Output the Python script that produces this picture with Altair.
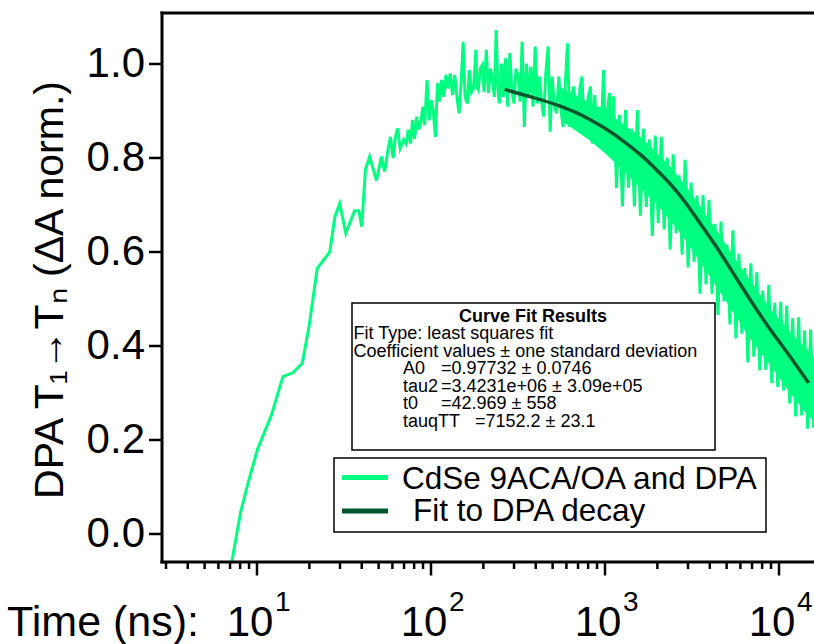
import altair as alt
import pandas as pd

# ---------------- data ----------------
data_t = [7.10, 7.22, 8.06, 8.88, 10.05, 12.1, 14.1, 16.1, 18.2, 19.9, 22.2, 26.2, 28.0, 29.9,
          32.4, 36.4, 38.5, 40.0, 42.0, 44.4, 48.6, 51.9, 54.2, 56.6,
          58.5, 60.6, 62.5, 64.3, 66.5, 69.8, 72.0, 74.0, 76.3, 78.3, 80.5, 82.7, 85.0, 87.3,
          89.8, 92.0, 94.9, 97.5, 100.6, 103, 106, 109, 112, 115, 118.5, 122, 125, 129, 133,
          137, 141, 145, 149, 153, 157, 162, 166, 171, 176, 181, 184, 187, 192, 197, 202, 208,
          214, 220, 226, 231, 237, 242, 247, 254, 261, 268, 276, 284, 292, 300, 308, 317, 325,
          334, 344, 354, 364, 375, 386, 397, 409, 420, 432, 444, 457, 471, 484, 497, 512, 527,
          543, 559, 575, 592, 609, 627, 643, 660, 680, 699, 718, 737, 757, 778, 802, 826, 848,
          873, 900, 925, 950, 980, 1010, 1035, 1060, 1090,
          1120, 1165, 1212, 1260, 1311, 1364, 1419, 1476, 1535, 1597, 1661, 1728, 1797, 1870,
          1945, 2023, 2105, 2190, 2278, 2370, 2465, 2565, 2668, 2776, 2888, 3004, 3125, 3251,
          3382, 3518, 3660, 3808, 3961, 4121, 4287, 4460, 4640, 4827, 5022, 5224, 5435, 5654,
          5882, 6119, 6366, 6623, 6890, 7168, 7457, 7758, 8071, 8396, 8735, 9087, 9454, 9835,
          10232, 10645, 11074, 11521, 11986, 12469, 12972, 13495, 14040, 14606, 15195, 15808]
data_y = [-0.067, -0.052, 0.047, 0.108, 0.179, 0.253, 0.335, 0.343, 0.363, 0.441, 0.565, 0.600,
          0.674, 0.703, 0.640, 0.688, 0.688, 0.654, 0.775, 0.803, 0.752, 0.803, 0.771, 0.817,
          0.845, 0.800, 0.845, 0.863, 0.820, 0.839, 0.830, 0.860, 0.831, 0.881, 0.840, 0.888,
          0.860, 0.874, 0.909, 0.870, 0.966, 0.880, 0.923, 0.900, 0.845, 0.959, 0.920, 0.966,
          0.930, 0.977, 0.948, 0.980, 0.934, 0.977, 0.930, 0.895, 0.960, 1.047, 0.930, 0.916,
          0.987, 0.940, 0.948, 1.030, 0.950, 0.945, 0.990, 0.998, 0.940, 1.030, 0.938, 0.990,
          0.966, 0.930, 1.072, 0.950, 0.916, 1.001, 0.930, 1.012, 0.909, 1.023, 0.940, 0.916,
          0.990, 0.973, 0.920, 1.047, 0.866, 1.001, 0.930, 0.994, 0.909, 1.037, 0.916, 0.973,
          0.920, 0.888, 0.980, 1.037, 0.856, 0.973, 0.910, 0.895, 0.973, 0.900, 0.866, 0.960,
          1.044, 0.866, 0.930, 0.952, 0.870, 0.860, 0.950, 0.973, 0.880, 0.853, 0.930, 0.952,
          0.831, 0.934, 0.850, 0.909, 0.840, 0.987, 0.824, 0.900, 0.938, 0.800,
          0.931, 0.736, 0.892, 0.697, 0.902, 0.737, 0.862, 0.697, 0.902, 0.677, 0.862, 0.696,
          0.840, 0.634, 0.848, 0.661, 0.845, 0.648, 0.801, 0.605, 0.808, 0.640, 0.763, 0.594,
          0.796, 0.567, 0.748, 0.579, 0.720, 0.511, 0.721, 0.531, 0.711, 0.511, 0.660, 0.466,
          0.665, 0.495, 0.616, 0.446, 0.646, 0.416, 0.596, 0.426, 0.566, 0.365, 0.576, 0.377,
          0.557, 0.348, 0.518, 0.349, 0.530, 0.321, 0.492, 0.313, 0.494, 0.305, 0.486, 0.278,
          0.459, 0.250, 0.461, 0.252, 0.433, 0.224, 0.435, 0.226]

band_t = [560, 800, 1000, 1300, 1600, 2000, 2400, 2850, 3500, 4400, 5500, 6840, 8870, 11600, 14800, 15890]
band_lo = [0.88, 0.84, 0.81, 0.77, 0.735, 0.70, 0.665, 0.63, 0.58, 0.525, 0.47, 0.415, 0.36, 0.30, 0.25, 0.24]
band_hi = [0.95, 0.92, 0.90, 0.87, 0.845, 0.81, 0.78, 0.745, 0.70, 0.645, 0.59, 0.54, 0.48, 0.43, 0.39, 0.38]

fit_t = [265, 375, 526, 658, 827, 1030, 1285, 1610, 2012, 2394, 2847, 3504, 4400, 5500, 6840, 8870, 11600, 14800]
fit_y = [0.946, 0.930, 0.913, 0.899, 0.881, 0.860, 0.835, 0.806, 0.772, 0.743, 0.709, 0.662, 0.609, 0.553,
         0.498, 0.436, 0.377, 0.321]

major_ticks = [10, 100, 1000, 10000]
exp_labels = ["1", "2", "3", "4"]
minor_ticks = [3, 4, 5, 6, 7, 8, 9, 20, 30, 40, 50, 60, 70, 80, 90,
               200, 300, 400, 500, 600, 700, 800, 900, 2000, 3000, 4000, 5000, 6000, 7000, 8000, 9000]
y_ticks = [0.0, 0.2, 0.4, 0.6, 0.8, 1.0]
y_tick_labels = ["0.0", "0.2", "0.4", "0.6", "0.8", "1.0"]

x_title = "Time (ns):"
y_title = "DPA T\u2081\u2192T\u2099 (\u0394A norm.)"
series_names = ["CdSe 9ACA/OA and DPA", "Fit to DPA decay"]
fit_title = "Curve Fit Results"
fit_lines = ["Fit Type: least squares fit", "Coefficient values \u00b1 one standard deviation"]
coef_names = ["A0", "tau2", "t0", "tauqTT"]
coef_values = ["=0.97732 \u00b1 0.0746", "=3.4231e+06 \u00b1 3.09e+05", "=42.969 \u00b1 558", "=7152.2 \u00b1 23.1"]

# ---------------- style ----------------
FONT = "Liberation Sans, Arial, Helvetica, sans-serif"
GREEN = "#00ff80"
DARK = "#00562d"
W, H = 652, 549

xs = alt.Scale(type="log", domain=[2.845, 15890], nice=False)
ys = alt.Scale(domain=[-0.0596, 1.1085], nice=False, zero=False)


def one():
    return pd.DataFrame({"k": [0]})


def text_at(txt, x, y, size, weight="normal", align="left", angle=0):
    return alt.Chart(one()).mark_text(
        font=FONT, fontSize=size, fontWeight=weight, align=align, baseline="alphabetic",
        color="black", text=txt, angle=angle
    ).encode(x=alt.value(x), y=alt.value(y))


def xpos(field="t"):
    return alt.X(f"{field}:Q", scale=xs, axis=None)


def ypos(field="y"):
    return alt.Y(f"{field}:Q", scale=ys, axis=None)


# ---------------- data marks ----------------
line = alt.Chart(pd.DataFrame({"t": data_t, "y": data_y})).mark_line(
    color=GREEN, strokeWidth=3, clip=True, strokeJoin="miter"
).encode(x=xpos(), y=ypos())

band = alt.Chart(pd.DataFrame({"t": band_t, "lo": band_lo, "hi": band_hi})).mark_area(
    color=GREEN, clip=True, opacity=1
).encode(x=xpos(), y=ypos("lo"), y2="hi:Q")

fit = alt.Chart(pd.DataFrame({"t": fit_t, "y": fit_y})).mark_line(
    color=DARK, strokeWidth=3.5, interpolate="monotone", clip=True
).encode(x=xpos(), y=ypos())

# ---------------- axes / frame ----------------
frame_left = alt.Chart(one()).mark_rule(color="black", strokeWidth=3).encode(
    x=alt.value(0), y=alt.value(-1.5), y2=alt.value(H + 1.5))
frame_bottom = alt.Chart(one()).mark_rule(color="black", strokeWidth=3).encode(
    x=alt.value(-1.5), x2=alt.value(W), y=alt.value(H))
frame_top = alt.Chart(one()).mark_rule(color="black", strokeWidth=3).encode(
    x=alt.value(-1.5), x2=alt.value(W), y=alt.value(0))

xmaj = alt.Chart(pd.DataFrame({"t": major_ticks})).mark_rule(color="black", strokeWidth=2.5).encode(
    x=xpos(), y=alt.value(H), y2=alt.value(H + 13.5))
xmin = alt.Chart(pd.DataFrame({"t": minor_ticks})).mark_rule(color="black", strokeWidth=2.5).encode(
    x=xpos(), y=alt.value(H), y2=alt.value(H + 7))

ytick_df = pd.DataFrame({"y": y_ticks, "lab": y_tick_labels})
ytk = alt.Chart(ytick_df).mark_rule(color="black", strokeWidth=2.5).encode(
    y=ypos(), x=alt.value(-13), x2=alt.value(0))
ylab = alt.Chart(ytick_df).mark_text(
    font=FONT, fontSize=42, align="right", baseline="middle", color="black"
).encode(y=ypos(), x=alt.value(-17), text="lab:N")

xlab_df = pd.DataFrame({"t": major_ticks, "base": ["10"] * 4, "exp": exp_labels})
xbase = alt.Chart(xlab_df).mark_text(
    font=FONT, fontSize=42, align="center", baseline="alphabetic", dx=-7, color="black"
).encode(x=xpos(), y=alt.value(623), text="base:N")
xexp = alt.Chart(xlab_df).mark_text(
    font=FONT, fontSize=28, align="left", baseline="alphabetic", dx=18, color="black"
).encode(x=xpos(), y=alt.value(598), text="exp:N")

xtitle = text_at(x_title, 37, 623, 43, align="right")
ytitle = text_at(y_title, -99, 277, 41, align="center", angle=270)

# ---------------- fit results box ----------------
fitbox = alt.Chart(one()).mark_rect(fill="white", stroke="black", strokeWidth=1.5).encode(
    x=alt.value(190), x2=alt.value(553), y=alt.value(290), y2=alt.value(437))
FS = 18
LS = 17.5
box_layers = [fitbox, text_at(fit_title, 371, 308.5, FS, weight="bold", align="center")]
for i, s in enumerate(fit_lines):
    box_layers.append(text_at(s, 191.5, 308.5 + LS * (i + 1), FS))
for i, (n, v) in enumerate(zip(coef_names, coef_values)):
    yy = 308.5 + LS * (i + 3)
    box_layers.append(text_at(n, 241, yy, FS))
    box_layers.append(text_at(v, 313 if n == "tauqTT" else 279, yy, FS))

# ---------------- legend ----------------
legbox = alt.Chart(one()).mark_rect(fill="white", stroke="black", strokeWidth=1.5).encode(
    x=alt.value(172), x2=alt.value(604), y=alt.value(445), y2=alt.value(519))
leg_layers = [legbox]
for name, col, sy, ty, tx in zip(series_names, [GREEN, DARK], [464.5, 498], [475.5, 507.5], [240, 251]):
    leg_layers.append(
        alt.Chart(one()).mark_rule(strokeWidth=5, color=col).encode(
            x=alt.value(180), x2=alt.value(226), y=alt.value(sy))
    )
    leg_layers.append(text_at(name, tx, ty, 31.5))

chart = alt.layer(
    band, line, fit, frame_left, frame_bottom, frame_top, xmaj, xmin, ytk, ylab,
    xbase, xexp, xtitle, ytitle, *box_layers, *leg_layers
).properties(
    width=W, height=H,
    padding={"left": 162, "top": 13, "right": 0, "bottom": 82},
    autosize=alt.AutoSizeParams(type="none"),
    background="white",
).configure_view(stroke=None)

chart.save("out.html", embed_options={"renderer": "svg", "actions": False})
